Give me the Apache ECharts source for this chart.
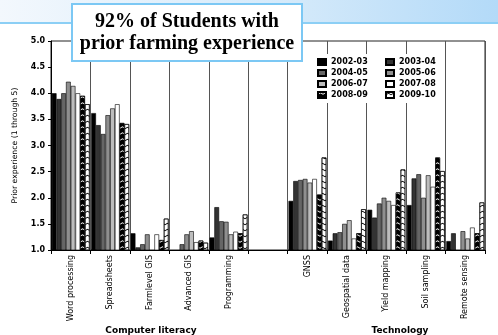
<!DOCTYPE html>
<html>
<head>
<meta charset="utf-8">
<script src="https://cdn.jsdelivr.net/npm/echarts@6/dist/echarts.min.js"></script>
<style>
html,body{margin:0;padding:0;background:#fff;}
#chart{width:498px;height:335px;}
</style>
</head>
<body>
<div id="chart"></div>
<script>
var categories = ['Word processing','Spreadsheets','Farmlevel GIS','Advanced GIS','Programming','','GNSS','Geospatial data','Yield mapping','Soil sampling','Remote sensing'];
var years = ['2002-03','2003-04','2004-05','2005-06','2006-07','2007-08','2008-09','2009-10'];
var v2002_03 = [4.00, 3.62, 1.32, 1.00, 1.24, null, 1.94, 1.18, 1.77, 1.86, 1.17];
var v2003_04 = [3.89, 3.39, 1.05, 1.00, 1.82, null, 2.32, 1.32, 1.62, 2.37, 1.32];
var v2004_05 = [4.00, 3.22, 1.11, 1.11, 1.55, null, 2.34, 1.34, 1.89, 2.45, 1.00];
var v2005_06 = [4.22, 3.58, 1.30, 1.30, 1.54, null, 2.36, 1.50, 2.00, 2.00, 1.36];
var v2006_07 = [4.14, 3.71, 1.00, 1.36, 1.30, null, 2.29, 1.57, 1.94, 2.43, 1.22];
var v2007_08 = [4.00, 3.79, 1.30, 1.15, 1.35, null, 2.36, 1.22, 1.86, 2.21, 1.43];
var v2008_09 = [3.95, 3.43, 1.19, 1.18, 1.32, null, 2.06, 1.32, 2.10, 2.77, 1.32];
var v2009_10 = [3.79, 3.41, 1.60, 1.14, 1.68, null, 2.77, 1.78, 2.54, 2.51, 1.91];
var yTicks = [1.0, 1.5, 2.0, 2.5, 3.0, 3.5, 4.0, 4.5, 5.0];
var titleLines = ['92% of Students with', 'prior farming experience'];
var groupLabels = ['Computer literacy', 'Technology'];
var yName = 'Prior experience (1 through 5)';

var seriesValues = [v2002_03, v2003_04, v2004_05, v2005_06, v2006_07, v2007_08, v2008_09, v2009_10];
var fills = ['#000000', '#333333', '#666666', '#8f8f8f', '#bdbdbd', '#ffffff', '#000000', '#ffffff'];
var chevron = 'path://M0,3 L5,0 L10,3 L10,5 L5,2 L0,5 Z';
var decals = [null, null, null, null, null, null,
  {symbol: chevron, symbolSize: 1, dashArrayX: [5, 0], dashArrayY: [3, 3], color: '#ffffff'},
  {symbol: chevron, symbolSize: 1, dashArrayX: [5, 0], dashArrayY: [4, 2], color: '#000000'}];

var series = years.map(function (y, i) {
  var st = {color: fills[i], borderColor: '#000', borderWidth: 0.6};
  if (decals[i]) st.decal = decals[i];
  return {
    name: y, type: 'bar', data: seriesValues[i],
    barGap: '0%', barCategoryGap: '4%',
    itemStyle: st, emphasis: {disabled: true}, animation: false
  };
});

var chart = echarts.init(document.getElementById('chart'), null, {renderer: 'canvas'});
var legendText = {fontFamily: 'DejaVu Sans', fontWeight: 'bold', fontSize: 8, color: '#000', lineHeight: 8};
chart.setOption({
  animation: false,
  aria: {decal: {show: false}},
  grid: {left: 51, right: 13, top: 41, bottom: 85, show: true, borderColor: '#222', borderWidth: 1, backgroundColor: 'transparent'},
  legend: [
    {data: [years[0], years[2], years[4], years[6]], orient: 'vertical', left: 312, top: 54,
     itemWidth: 8, itemHeight: 6, itemGap: 3, padding: [4, 5, 4, 5], backgroundColor: '#fff',
     textStyle: legendText, icon: 'rect', selectedMode: false},
    {data: [years[1], years[3], years[5], years[7]], orient: 'vertical', left: 372, top: 54,
     itemWidth: 8, itemHeight: 6, itemGap: 3, padding: [4, 5, 4, 13], backgroundColor: '#fff',
     textStyle: legendText, icon: 'rect', selectedMode: false}
  ],
  xAxis: {
    type: 'category', data: categories,
    axisLine: {lineStyle: {color: '#000', width: 1}},
    axisTick: {show: true, length: 4, interval: 0, lineStyle: {color: '#000'}},
    axisLabel: {rotate: 90, interval: 0, margin: 5, fontFamily: 'DejaVu Sans', fontSize: 8, color: '#000'},
    splitLine: {show: true, interval: 0, lineStyle: {color: '#555', width: 1}}
  },
  yAxis: {
    type: 'value', min: yTicks[0], max: yTicks[yTicks.length - 1], interval: 0.5,
    name: yName, nameLocation: 'middle', nameGap: 32, nameRotate: 90,
    nameTextStyle: {fontFamily: 'DejaVu Sans', fontSize: 7.7, color: '#000'},
    axisLine: {show: true, lineStyle: {color: '#000', width: 1}},
    axisTick: {show: true, length: 3, lineStyle: {color: '#000'}},
    axisLabel: {margin: 6, fontFamily: 'DejaVu Sans', fontWeight: 'bold', fontSize: 8, color: '#000',
      formatter: function (v) { return v.toFixed(1); }},
    splitLine: {show: false}
  },
  series: series,
  graphic: [
    {type: 'rect', z: 0, silent: true, shape: {x: 0, y: 0, width: 498, height: 23},
     style: {fill: {type: 'linear', x: 0, y: 0, x2: 1, y2: 0, colorStops: [
       {offset: 0, color: '#f3f8fd'}, {offset: 0.6, color: '#d3e9fa'}, {offset: 1, color: '#b3daf8'}]}}},
    {type: 'line', z: 1, silent: true, shape: {x1: 0, y1: 23, x2: 498, y2: 23},
     style: {stroke: '#8ccff5', lineWidth: 2}},
    {type: 'rect', z: 100, silent: true, shape: {x: 72, y: 4, width: 230, height: 57},
     style: {fill: '#ffffff', stroke: '#7cc8f4', lineWidth: 2}},
    {type: 'text', z: 101, silent: true, x: 187, y: 22,
     style: {text: titleLines[0], fontFamily: 'Liberation Serif', fontWeight: 'bold', fontSize: 20,
       fill: '#000', align: 'center', verticalAlign: 'middle'}},
    {type: 'text', z: 101, silent: true, x: 187, y: 44,
     style: {text: titleLines[1], fontFamily: 'Liberation Serif', fontWeight: 'bold', fontSize: 20,
       fill: '#000', align: 'center', verticalAlign: 'middle'}},
    {type: 'text', z: 101, silent: true, x: 151, y: 331,
     style: {text: groupLabels[0], fontFamily: 'DejaVu Sans', fontWeight: 'bold', fontSize: 9,
       fill: '#000', align: 'center', verticalAlign: 'middle'}},
    {type: 'text', z: 101, silent: true, x: 400, y: 331,
     style: {text: groupLabels[1], fontFamily: 'DejaVu Sans', fontWeight: 'bold', fontSize: 9,
       fill: '#000', align: 'center', verticalAlign: 'middle'}}
  ]
});
</script>
</body>
</html>
